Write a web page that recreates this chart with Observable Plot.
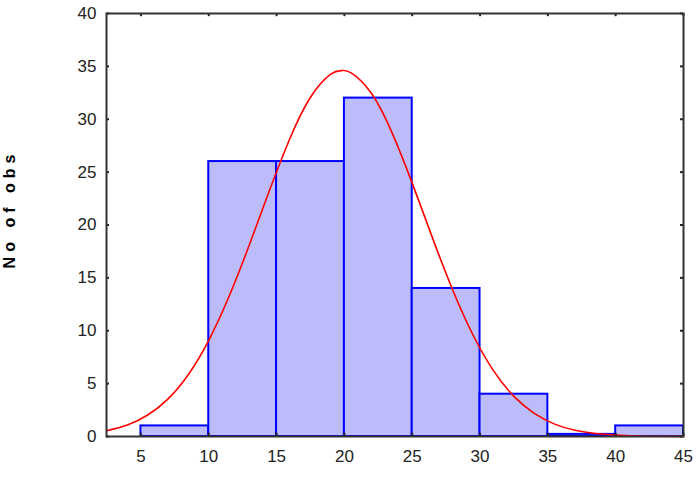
<!DOCTYPE html>
<html><head><meta charset="utf-8">
<script src="https://cdn.jsdelivr.net/npm/d3@7"></script>
<script src="https://cdn.jsdelivr.net/npm/@observablehq/plot@0.6"></script>
<style>
body{margin:0;background:#fff;}
#wrap{position:relative;width:697px;height:482px;}
#ylab{position:absolute;left:-80px;top:200px;width:180px;text-align:center;transform:rotate(-90deg);font:bold 16px "Liberation Sans",Arial,sans-serif;color:#000;letter-spacing:5px;}
svg text{font-size:17px;}
</style></head>
<body><div id="wrap"><div id="ylab">No of obs</div></div>
<script>
const binStart = [5, 10, 15, 20, 25, 30, 35, 40];
const binEnd   = [10, 15, 20, 25, 30, 35, 40, 45];
const counts   = [1, 26, 26, 32, 14, 4, 0.2, 1];
const curveX = [2.46, 4, 5.5, 7, 8.5, 10, 11.5, 13, 14.5, 16, 17.5, 19, 19.8, 20.5, 22, 23.5, 25, 26.5, 28, 29.5, 31, 32.5, 34, 35.5, 37, 38.5, 40, 41.5, 43, 45];
const curveY = [0.55, 1.09, 2.03, 3.56, 5.87, 9.1, 13.26, 18.15, 23.35, 28.23, 32.08, 34.26, 34.6, 34.39, 32.44, 28.76, 23.96, 18.76, 13.81, 9.55, 6.21, 3.79, 2.18, 1.17, 0.59, 0.28, 0.13, 0.05, 0.02, 0.01];
const xTicks = [5, 10, 15, 20, 25, 30, 35, 40, 45];
const yTicks = [0, 5, 10, 15, 20, 25, 30, 35, 40];

const bins = binStart.map((s, i) => ({x1: s, x2: binEnd[i], y: counts[i]}));
const curve = curveX.map((x, i) => ({x, y: curveY[i]}));
const xMin = 2.46, xMax = 45, yMin = 0, yMax = 40;

const chart = Plot.plot({
  width: 697, height: 482,
  marginLeft: 106, marginRight: 14, marginTop: 13, marginBottom: 46,
  style: {fontFamily: "'Liberation Sans', Arial, sans-serif", fontSize: "17px", color: "#222", background: "transparent"},
  x: {domain: [xMin, xMax], ticks: xTicks, label: null},
  y: {domain: [yMin, yMax], ticks: yTicks, label: null},
  marks: [
    Plot.rectY(bins, {x1: "x1", x2: "x2", y: "y", fill: "#bcbcfa", stroke: "#0000ff", strokeWidth: 2}),
    Plot.line(curve, {x: "x", y: "y", stroke: "#ff0000", strokeWidth: 1.6, curve: "natural"}),
    Plot.ruleX(xTicks, {x: d => d, y1: yMin, y2: yMin + 0.3, stroke: "#222", strokeWidth: 2}),
    Plot.ruleX(xTicks, {x: d => d, y1: yMax, y2: yMax - 0.3, stroke: "#222", strokeWidth: 2}),
    Plot.ruleY(yTicks, {y: d => d, x1: xMin, x2: xMin + 0.22, stroke: "#222", strokeWidth: 2}),
    Plot.ruleY(yTicks, {y: d => d, x1: xMax, x2: xMax - 0.22, stroke: "#222", strokeWidth: 2}),
    Plot.axisX(xTicks, {anchor: "bottom", tickSize: 0, tickPadding: 13}),
    Plot.axisY(yTicks, {anchor: "left", tickSize: 0, tickPadding: 10}),
    Plot.frame({stroke: "#333", strokeWidth: 2})
  ]
});
document.getElementById("wrap").appendChild(chart);
chart.style.position = "absolute"; chart.style.left = "0"; chart.style.top = "0";
</script>
</body></html>
